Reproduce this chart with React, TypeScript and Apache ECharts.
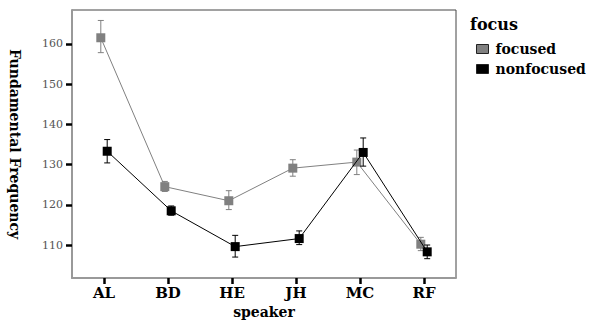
import React, { useEffect, useRef } from "react";
import * as echarts from "echarts";

const speakers = ["AL", "BD", "HE", "JH", "MC", "RF"];
const focusedMean = [161.5, 124.5, 121.0, 129.1, 130.6, 110.2];
const focusedLow = [157.8, 123.3, 118.8, 127.1, 127.5, 108.6];
const focusedHigh = [165.8, 125.8, 123.5, 131.2, 133.6, 111.9];
const nonfocusedMean = [133.3, 118.5, 109.6, 111.6, 133.0, 108.3];
const nonfocusedLow = [130.4, 117.4, 107.0, 110.1, 129.6, 106.6];
const nonfocusedHigh = [136.2, 119.7, 112.4, 113.5, 136.6, 110.0];
const yTicks = [110, 120, 130, 140, 150, 160];
const seriesNames = ["focused", "nonfocused"];

const FONT = "DejaVu Serif";

export default function App() {
  const ref = useRef<HTMLDivElement>(null);
  useEffect(() => {
    if (!ref.current) return;
    const chart = echarts.init(ref.current, null, { renderer: "svg" });
    const dodge = [-0.05, 0.05];
    const colors = ["#808080", "#000000"];
    const means = [focusedMean, nonfocusedMean];
    const lows = [focusedLow, nonfocusedLow];
    const highs = [focusedHigh, nonfocusedHigh];

    const series: any[] = [];
    [0, 1].forEach((s) => {
      series.push({
        type: "custom",
        name: seriesNames[s] + "_err",
        xAxisIndex: 1,
        yAxisIndex: 0,
        z: 2 + s * 2,
        silent: true,
        data: speakers.map((_, i) => [i + dodge[s], lows[s][i], highs[s][i]]),
        encode: { x: 0, y: [1, 2] },
        renderItem: (params: any, api: any) => {
          const x = api.value(0);
          const lo = api.coord([x, api.value(1)]);
          const hi = api.coord([x, api.value(2)]);
          const w = 3;
          const style = { stroke: colors[s], lineWidth: 1 };
          return {
            type: "group",
            children: [
              { type: "line", shape: { x1: lo[0], y1: lo[1], x2: hi[0], y2: hi[1] }, style },
              { type: "line", shape: { x1: lo[0] - w, y1: lo[1], x2: lo[0] + w, y2: lo[1] }, style },
              { type: "line", shape: { x1: hi[0] - w, y1: hi[1], x2: hi[0] + w, y2: hi[1] }, style },
            ],
          };
        },
      });
      series.push({
        type: "line",
        name: seriesNames[s],
        xAxisIndex: 1,
        yAxisIndex: 0,
        z: 3 + s * 2,
        data: speakers.map((_, i) => [i + dodge[s], means[s][i]]),
        symbol: "rect",
        symbolSize: 9,
        lineStyle: { color: colors[s], width: 1 },
        itemStyle: { color: colors[s] },
      });
    });

    chart.setOption({
      animation: false,
      grid: {
        left: 72,
        right: 154,
        top: 10,
        bottom: 42,
        outerBoundsMode: "none",
        containLabel: false,
        show: true,
        borderColor: "#444",
        borderWidth: 1,
        backgroundColor: "#fff",
      },
      xAxis: [
        {
          type: "category",
          data: speakers,
          boundaryGap: true,
          axisLine: { show: true, onZero: false, lineStyle: { color: "#999", width: 2 } },
          axisTick: { show: true, inside: false, alignWithLabel: true, interval: 0, length: 6, lineStyle: { color: "#000", width: 2.5 } },
          axisLabel: { fontFamily: FONT, fontWeight: "bold", fontSize: 15, color: "#000", margin: 7 },
          name: "speaker",
          nameLocation: "middle",
          nameGap: 23,
          nameTextStyle: { fontFamily: FONT, fontWeight: "bold", fontSize: 14, color: "#000" },
          splitLine: { show: false },
          z: 10,
        },
        {
          type: "value",
          show: false,
          min: -0.5,
          max: 5.5,
          splitLine: { show: false },
        },
      ],
      yAxis: {
        type: "value",
        min: 101.8,
        max: 168.4,
        z: 10,
        axisLine: { show: true, onZero: false, lineStyle: { color: "#999", width: 2 } },
        axisTick: { show: true, inside: false, length: 6, lineStyle: { color: "#000", width: 2.5 }, customValues: yTicks },
        axisLabel: { fontFamily: FONT, fontSize: 11, color: "#555", margin: 9, customValues: yTicks },
        splitLine: { show: false },
        name: "Fundamental Frequency",
        nameLocation: "middle",
        nameRotate: -90,
        nameGap: 50,
        nameTextStyle: { fontFamily: FONT, fontWeight: "bold", fontSize: 14, color: "#000" },
      },
      legend: {
        orient: "vertical",
        left: 471,
        top: 37,
        itemWidth: 12,
        itemHeight: 9,
        itemGap: 6,
        icon: "rect",
        data: seriesNames,
        itemStyle: { borderColor: "#222", borderWidth: 1 },
        textStyle: { fontFamily: FONT, fontWeight: "bold", fontSize: 14, color: "#000", padding: [0, 0, 0, 2] },
        selectedMode: false,
      },
      graphic: [
        {
          type: "text",
          left: 470,
          top: 16,
          style: { text: "focus", fontFamily: FONT, fontWeight: "bold", fontSize: 16, fill: "#000" },
        },
      ],
      series,
    });
    return () => chart.dispose();
  }, []);
  return <div ref={ref} style={{ width: 610, height: 320, position: "absolute", left: 0, top: 0, background: "#fff" }} />;
}
